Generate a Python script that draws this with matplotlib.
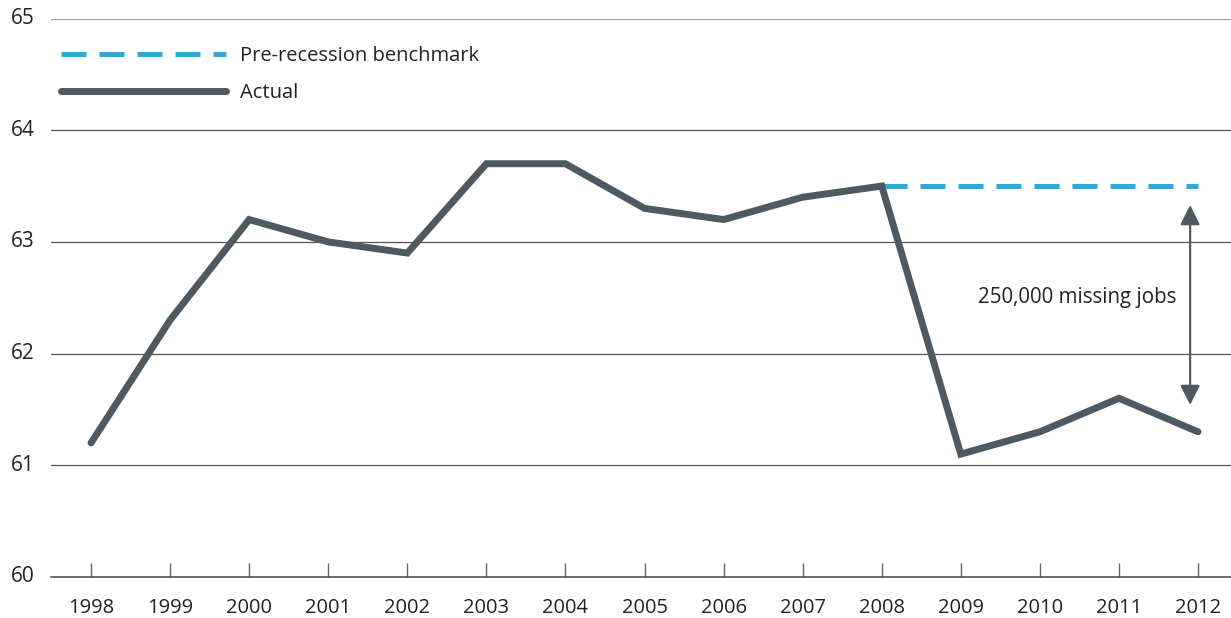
import matplotlib
matplotlib.use("Agg")
import matplotlib.pyplot as plt

# Employment rate data
years = [1998, 1999, 2000, 2001, 2002, 2003, 2004, 2005,
         2006, 2007, 2008, 2009, 2010, 2011, 2012]
actual = [61.2, 62.3, 63.2, 63.0, 62.9, 63.7, 63.7, 63.3,
          63.2, 63.4, 63.5, 61.1, 61.3, 61.6, 61.3]
bench_years = [2008, 2009, 2010, 2011, 2012]
benchmark = [63.5, 63.5, 63.5, 63.5, 63.5]
yticks = [60, 61, 62, 63, 64, 65]
gap_label = "250,000 missing jobs"

dark = "#4d5a62"
blue = "#31a9d8"

plt.rcParams["font.family"] = ["Open Sans", "DejaVu Sans"]

fig = plt.figure(figsize=(12.31, 6.18), dpi=100)
ax = fig.add_axes([51 / 1231, 1 - 577 / 618, 1 - 51 / 1231, (577 - 18.5) / 618])

# gridlines
for v in yticks[1:]:
    ax.axhline(v, color="#9a9a9a" if v == 65 else "#555555", lw=0.9, zorder=1)

ax.plot(bench_years, benchmark, color=blue, lw=3.6, dashes=(5, 2.6),
        solid_capstyle="butt", label="Pre-recession benchmark", zorder=3)
ax.plot(years, actual, color=dark, lw=5, solid_capstyle="round",
        solid_joinstyle="miter", label="Actual", zorder=4)

# gap arrow + label
ax.annotate("", xy=(2011.9, 61.54), xytext=(2011.9, 63.33),
            arrowprops=dict(arrowstyle="<|-|>", color=dark, lw=1.6,
                            mutation_scale=30, shrinkA=0, shrinkB=0))
ax.text(2011.72, 62.5, gap_label, ha="right", va="center",
        fontsize=14.8, color="#222222")

ax.set_xlim(1997.494, 2012.417)
ax.set_ylim(60, 65)
ax.set_xticks(years)
ax.set_yticks(yticks)
ax.tick_params(axis="x", direction="in", length=10, width=1, color="#666666",
               pad=15, labelsize=14.5, labelcolor="#222222")
ax.tick_params(axis="y", length=0, pad=12, labelsize=15, labelcolor="#222222")
for lab in ax.get_yticklabels():
    lab.set_verticalalignment("center")

for s in ["top", "right", "left"]:
    ax.spines[s].set_visible(False)
ax.spines["bottom"].set_color("#555555")
ax.spines["bottom"].set_linewidth(1.2)

leg = ax.legend(loc="upper left", bbox_to_anchor=(0.0014, 0.965), frameon=False,
                handlelength=8.2, handletextpad=0.72, labelspacing=0.85,
                fontsize=14.5, borderaxespad=0, borderpad=0.4)
for t in leg.get_texts():
    t.set_color("#222222")

fig.savefig("out.png", dpi=100)
